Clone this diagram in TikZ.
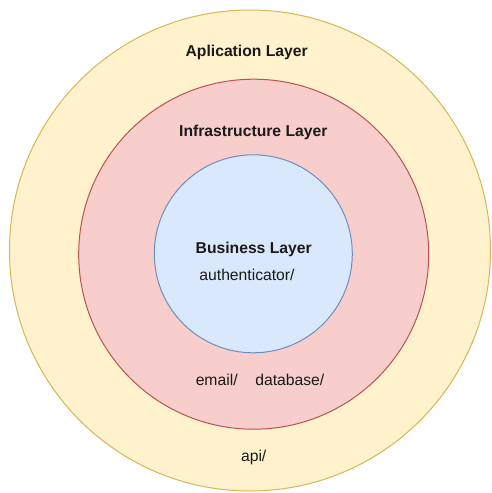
\documentclass[tikz,border=0pt]{standalone}
\usepackage{fontspec}
\setmainfont{Liberation Sans}
\begin{document}
\begin{tikzpicture}[x=1pt,y=-1pt,
  layer/.style={circle,draw,line width=1pt,inner sep=0pt},
  applayer/.style={layer,fill=appfill,draw=appline},
  infralayer/.style={layer,fill=infrafill,draw=infraline},
  bizlayer/.style={layer,fill=bizfill,draw=bizline},
  lbl/.style={anchor=base,inner sep=0pt,text=txt,font=\fontsize{15.7}{18}\selectfont},
  title/.style={lbl,font=\fontsize{15.7}{18}\selectfont\bfseries}]
\definecolor{appfill}{HTML}{FFF2CC}
\definecolor{appline}{HTML}{D6B656}
\definecolor{infrafill}{HTML}{F8CECC}
\definecolor{infraline}{HTML}{B85450}
\definecolor{bizfill}{HTML}{DAE8FC}
\definecolor{bizline}{HTML}{6C8EBF}
\definecolor{txt}{HTML}{1A1A1A}
\useasboundingbox (0,0) rectangle (491,493);
% concentric layers
\node[applayer,minimum size=481pt] (app) at (250,250.5) {};
\node[infralayer,minimum size=350pt] (infra) at (253.7,254.2) {};
\node[bizlayer,minimum size=198pt] (biz) at (253.3,253.8) {};
% layer titles
\node[title] (apptitle) at (246.7,56.5) {Aplication Layer};
\node[title] (infratitle) at (253.3,136) {Infrastructure Layer};
\node[title] (biztitle) at (253.7,253.3) {Business Layer};
% package folders
\node[lbl] (auth) at (247,280) {authenticator/};
\node[lbl] (email) at (216.7,385.7) {email/};
\node[lbl] (db) at (289.8,385.7) {database/};
\node[lbl] (api) at (253.7,461.5) {api/};
\end{tikzpicture}
\end{document}
